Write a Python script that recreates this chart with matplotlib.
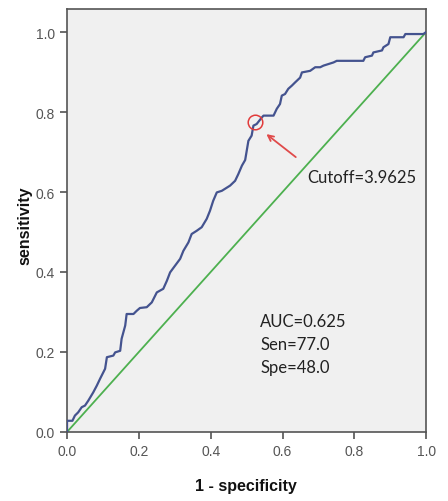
import matplotlib.pyplot as plt

# ROC points (1 - specificity, sensitivity)
fpr = [0.0, 0.0, 0.015, 0.022, 0.031, 0.041, 0.05, 0.059, 0.073, 0.083, 0.092,
       0.106, 0.111, 0.129, 0.134, 0.148, 0.152, 0.162, 0.166, 0.185, 0.194,
       0.203, 0.222, 0.236, 0.25, 0.268, 0.278, 0.287, 0.296, 0.315, 0.324,
       0.338, 0.347, 0.361, 0.375, 0.389, 0.398, 0.407, 0.417, 0.431, 0.454,
       0.468, 0.477, 0.487, 0.496, 0.505, 0.514, 0.519, 0.528, 0.542, 0.547,
       0.575, 0.584, 0.593, 0.598, 0.607, 0.616, 0.626, 0.635, 0.649, 0.654,
       0.677, 0.691, 0.705, 0.714, 0.742, 0.751, 0.825, 0.830, 0.849, 0.853,
       0.877, 0.881, 0.895, 0.900, 0.937, 0.942, 0.992, 1.0]
tpr = [0.0, 0.028, 0.028, 0.041, 0.049, 0.062, 0.066, 0.078, 0.099, 0.116, 0.133,
       0.158, 0.187, 0.191, 0.199, 0.203, 0.233, 0.266, 0.295, 0.295, 0.303,
       0.310, 0.312, 0.324, 0.349, 0.358, 0.378, 0.399, 0.410, 0.433, 0.453,
       0.474, 0.495, 0.503, 0.512, 0.533, 0.553, 0.578, 0.599, 0.603, 0.616,
       0.628, 0.645, 0.666, 0.680, 0.728, 0.741, 0.766, 0.770, 0.786, 0.791,
       0.791, 0.808, 0.820, 0.841, 0.845, 0.858, 0.866, 0.874, 0.886, 0.899,
       0.903, 0.912, 0.912, 0.916, 0.924, 0.928, 0.928, 0.937, 0.941, 0.949,
       0.954, 0.962, 0.970, 0.987, 0.987, 0.995, 0.995, 1.0]

ref_x = [0.0, 1.0]
ref_y = [0.0, 1.0]

cutoff_pt = (0.524, 0.776)
cutoff_label = "Cutoff=3.9625"
stats_lines = ["AUC=0.625", "Sen=77.0", "Spe=48.0"]
ticks = [0.0, 0.2, 0.4, 0.6, 0.8, 1.0]

fig = plt.figure(figsize=(4.48, 5.02), dpi=100)
ax = fig.add_axes([0.1496, 0.1375, 0.8017, 0.8425])
ax.set_facecolor("#f0f0f0")

ax.plot(ref_x, ref_y, color="#4db04f", lw=1.3, zorder=2)
ax.plot(fpr, tpr, color="#44538f", lw=1.6, zorder=3)

ax.plot(*cutoff_pt, marker="o", ms=10.5, mfc="none", mec="#e23b3b", mew=1.1, zorder=4)
ax.annotate("", xy=(0.549, 0.749), xytext=(0.643, 0.683),
            arrowprops=dict(arrowstyle="->", color="#e04a4a", lw=1.3))

txt_font = ["Lato", "DejaVu Sans"]
ax.text(0.669, 0.6375, cutoff_label, fontsize=12, family=txt_font,
        color="#222222", va="center", ha="left")
for i, s in enumerate(stats_lines):
    ax.text(0.538, 0.278 - i * 0.058, s, fontsize=12, family=txt_font,
            color="#222222", va="center", ha="left")

ax.set_xlim(0, 1)
ax.set_ylim(0, 1.0575)
ax.set_xticks(ticks)
ax.set_yticks(ticks)
ax.set_xticklabels([f"{t:.1f}" for t in ticks])
ax.set_yticklabels([f"{t:.1f}" for t in ticks])
ax.tick_params(direction="out", length=5, width=1.1, color="#444444",
               labelsize=10, labelcolor="#555555")
for lab in ax.get_xticklabels() + ax.get_yticklabels():
    lab.set_family("Liberation Sans")
for sp in ax.spines.values():
    sp.set_color("#555555")
    sp.set_linewidth(1.2)

fig.text(0.5495, 0.03, "1 - specificity", fontsize=11.5, fontweight="bold",
         family="Liberation Sans", ha="center", va="center", color="#111111")
fig.text(0.055, 0.55, "sensitivity", fontsize=11.5, fontweight="bold",
         family="Liberation Sans", ha="center", va="center", rotation=90,
         color="#111111")

fig.savefig("out.png", dpi=100)
